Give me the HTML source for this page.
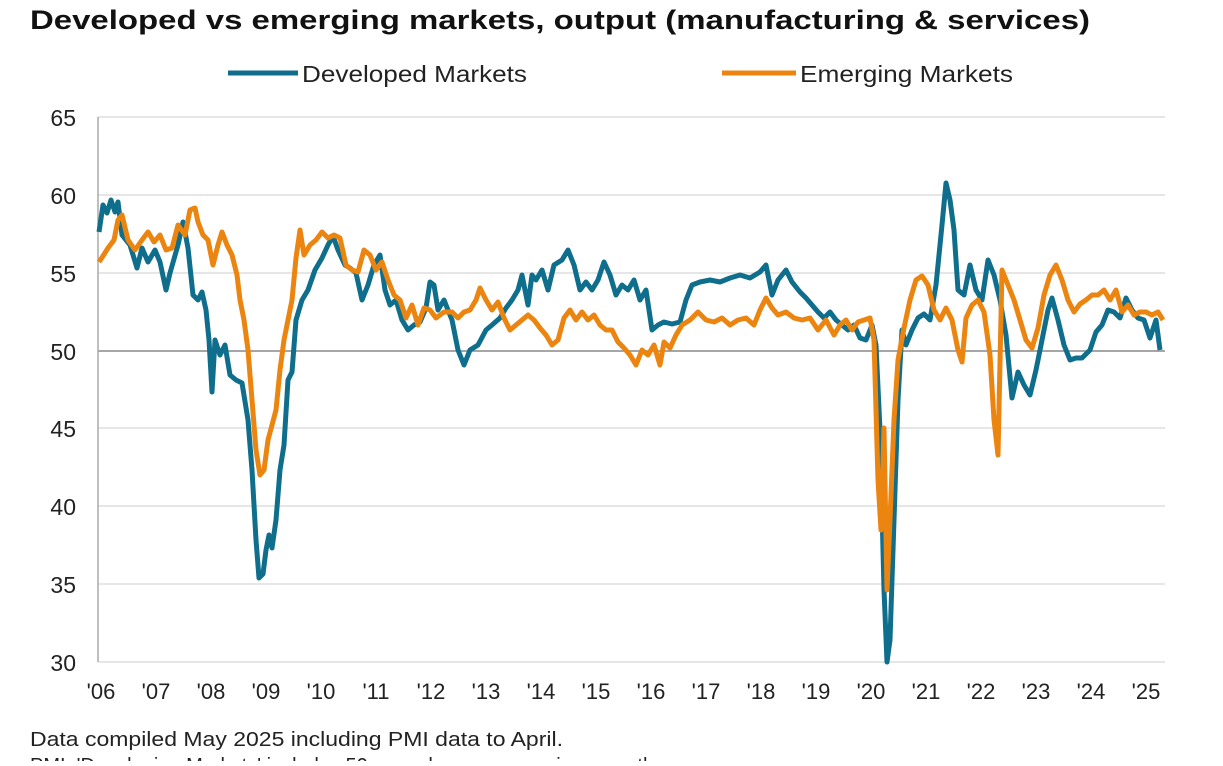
<!DOCTYPE html>
<html><head><meta charset="utf-8"><style>
body{margin:0;background:#fff;width:1223px;height:761px;overflow:hidden;font-family:"Liberation Sans",Arial,sans-serif}
</style></head><body>
<svg width="1223" height="761" xmlns="http://www.w3.org/2000/svg" font-family="Liberation Sans, Arial, sans-serif">
<text x="30" y="29" font-size="27" font-weight="bold" fill="#111" textLength="1060" lengthAdjust="spacingAndGlyphs">Developed vs emerging markets, output (manufacturing &amp; services)</text>
<line x1="228" y1="73" x2="298" y2="73" stroke="#0f6e8c" stroke-width="5"/>
<text x="302" y="82" font-size="23" fill="#222" textLength="225" lengthAdjust="spacingAndGlyphs">Developed Markets</text>
<line x1="722" y1="73" x2="796" y2="73" stroke="#ec8410" stroke-width="5"/>
<text x="800" y="82" font-size="23" fill="#222" textLength="213" lengthAdjust="spacingAndGlyphs">Emerging Markets</text>
<g stroke="#ddd" stroke-width="1.5">
<line x1="98" y1="117" x2="1165" y2="117"/><line x1="98" y1="195" x2="1165" y2="195"/>
<line x1="98" y1="273" x2="1165" y2="273"/><line x1="98" y1="428" x2="1165" y2="428"/>
<line x1="98" y1="506" x2="1165" y2="506"/><line x1="98" y1="584" x2="1165" y2="584"/>
<line x1="98" y1="662" x2="1165" y2="662"/>
</g>
<line x1="98" y1="351" x2="1165" y2="351" stroke="#888" stroke-width="1.5"/>
<line x1="98" y1="117" x2="98" y2="662" stroke="#aaa" stroke-width="1.5"/>
<g font-size="23" fill="#222" text-anchor="end">
<text x="76" y="126">65</text><text x="76" y="204">60</text><text x="76" y="282">55</text><text x="76" y="360">50</text>
<text x="76" y="437">45</text><text x="76" y="515">40</text><text x="76" y="593">35</text><text x="76" y="671">30</text>
</g>
<g font-size="22" fill="#222" text-anchor="middle">
<text x="101" y="699">'06</text><text x="156" y="699">'07</text><text x="211" y="699">'08</text><text x="266" y="699">'09</text>
<text x="321" y="699">'10</text><text x="376" y="699">'11</text><text x="431" y="699">'12</text><text x="486" y="699">'13</text>
<text x="541" y="699">'14</text><text x="596" y="699">'15</text><text x="651" y="699">'16</text><text x="706" y="699">'17</text>
<text x="761" y="699">'18</text><text x="816" y="699">'19</text><text x="871" y="699">'20</text><text x="926" y="699">'21</text>
<text x="981" y="699">'22</text><text x="1036" y="699">'23</text><text x="1091" y="699">'24</text><text x="1146" y="699">'25</text>
</g>
<polyline fill="none" stroke="#0f6e8c" stroke-width="5" stroke-linejoin="round" points="99,232 103,205 107,213 111,200 115,212 118,202 122,235 130,245 137,268 142,248 148,262 155,250 160,262 166,290 170,273 178,245 183,222 188,248 193,295 198,300 202,292 206,310 209,340 212,392 215,340 220,355 225,345 230,375 236,380 242,383 248,420 252,470 256,540 259,578 263,574 266,550 269,535 272,548 276,520 280,470 284,445 288,380 292,372 296,320 302,300 308,290 315,270 322,258 328,245 333,236 338,250 345,265 350,268 356,273 362,300 368,285 374,265 380,255 385,290 390,305 396,300 402,320 408,330 414,325 420,322 426,308 430,282 434,285 438,310 444,300 452,320 458,350 464,365 470,350 478,345 486,330 492,325 500,318 506,308 512,300 518,290 522,275 528,305 532,275 536,280 542,270 548,290 554,265 562,260 568,250 574,265 580,290 586,282 592,290 598,280 604,262 610,275 616,295 622,285 628,290 634,280 640,300 646,290 652,330 658,325 664,322 672,324 680,322 686,300 692,285 700,282 710,280 720,282 730,278 740,275 750,278 760,272 766,265 772,295 778,280 786,270 792,282 800,292 806,298 812,305 818,312 824,318 830,312 836,320 842,325 848,330 854,325 860,338 866,340 872,325 876,345 880,430 884,590 887,662 890,640 894,520 898,400 902,330 906,345 912,330 918,318 924,314 930,320 936,285 942,225 946,183 950,200 954,230 958,290 964,295 970,265 976,290 982,300 988,260 994,275 1000,300 1006,335 1012,398 1018,372 1024,385 1030,395 1036,370 1042,340 1048,310 1052,298 1058,320 1064,345 1070,360 1076,358 1082,358 1090,350 1096,332 1102,325 1108,310 1114,312 1120,318 1126,298 1132,310 1138,318 1144,320 1150,338 1156,320 1160,350"/>
<polyline fill="none" stroke="#ec8410" stroke-width="5" stroke-linejoin="round" points="99,262 103,256 108,248 114,240 118,220 122,215 128,240 135,250 142,240 148,232 154,242 160,235 166,250 172,248 178,225 185,235 190,210 195,208 198,222 203,235 208,240 213,265 218,245 222,232 227,245 232,255 237,275 240,300 244,320 248,350 252,400 256,450 260,475 264,470 268,440 272,425 276,410 280,370 284,340 288,320 292,300 296,258 300,230 304,255 310,245 316,240 322,232 328,238 334,235 340,238 346,265 352,270 358,272 364,250 370,255 376,270 382,262 388,280 394,295 400,300 406,318 412,305 418,325 424,308 430,310 436,318 444,312 452,312 458,318 464,312 470,310 476,300 480,288 486,300 492,310 498,302 504,318 510,330 516,325 522,320 528,315 534,320 540,328 546,335 552,345 558,340 564,318 570,310 576,320 582,312 588,320 594,315 600,325 606,330 612,330 618,342 624,348 630,355 636,365 642,350 648,355 654,345 660,365 664,342 670,348 676,335 682,325 690,320 698,312 706,320 714,322 722,318 730,325 738,320 746,318 754,325 760,310 766,298 772,308 778,315 786,312 794,318 802,320 810,318 818,330 826,320 834,335 840,325 846,320 852,330 858,322 864,320 870,318 874,340 878,480 881,530 884,428 887,590 890,520 894,420 898,360 904,328 910,300 916,280 922,276 928,285 934,310 940,320 946,308 952,320 958,350 962,362 966,318 972,305 978,300 984,312 990,355 994,420 998,455 1002,270 1008,285 1014,300 1020,320 1026,340 1032,348 1038,328 1044,295 1050,275 1056,265 1062,280 1068,300 1074,312 1080,304 1086,300 1092,295 1098,295 1104,290 1110,300 1116,290 1122,312 1128,305 1134,315 1140,312 1146,312 1152,315 1158,312 1163,320"/>
<text x="30" y="746" font-size="20" fill="#222" textLength="533" lengthAdjust="spacingAndGlyphs">Data compiled May 2025 including PMI data to April.</text>
<text x="30" y="772" font-size="20" fill="#222">PMI: 'Developing Markets' includes 50 = no change on previous month.</text>
</svg>
</body></html>
